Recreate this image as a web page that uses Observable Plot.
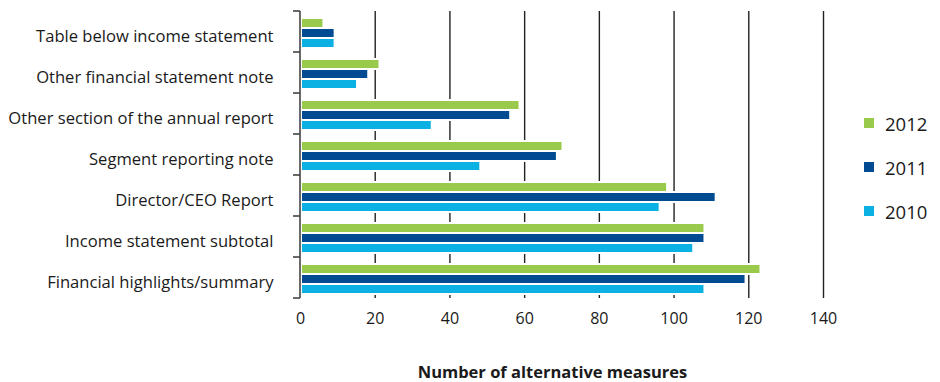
<!DOCTYPE html>
<html>
<head>
<meta charset="utf-8">
<script src="https://cdn.jsdelivr.net/npm/d3@7"></script>
<script src="https://cdn.jsdelivr.net/npm/@observablehq/plot@0.6"></script>
<style>
  body { margin: 0; background: #fff; }
  #chart { position: relative; width: 940px; height: 382px; overflow: hidden; font-family: "Open Sans", sans-serif; color: #1a1a1a; }
  #chart svg { position: absolute; left: 0; top: 0; }
  #legend { position: absolute; left: 864px; top: 101px; }
  #legend .item { display: flex; align-items: center; height: 44px; font-size: 18.5px; }
  #legend .sw { width: 10px; height: 10px; margin-right: 11px; }
  #xtitle { position: absolute; left: 300px; width: 505px; top: 364px; line-height: 16px; text-align: center; font-weight: bold; font-size: 16.5px; }
</style>
</head>
<body>
<div id="chart"></div>
<script>
// Where alternative performance measures are presented, by report year
const categories = [
  "Table below income statement",
  "Other financial statement note",
  "Other section of the annual report",
  "Segment reporting note",
  "Director/CEO Report",
  "Income statement subtotal",
  "Financial highlights/summary"
];
const years = ["2012", "2011", "2010"];
const values2012 = [6, 21, 58.5, 70, 98, 108, 123];
const values2011 = [9, 18, 56, 68.5, 111, 108, 119];
const values2010 = [9, 15, 35, 48, 96, 105, 108];
const yearColors = ["#9aca4b", "#004b91", "#0cb1e4"];
const xTicks = [0, 20, 40, 60, 80, 100, 120, 140];
const gridTicks = [20, 40, 60, 80, 100, 120, 140];
const axisTitle = "Number of alternative measures";

const seriesByYear = { "2012": values2012, "2011": values2011, "2010": values2010 };
const rows = years.flatMap(year =>
  categories.map((category, i) => ({ category, year, value: seriesByYear[year][i] }))
);

const chart = Plot.plot({
  width: 940,
  height: 382,
  marginTop: 11,
  marginBottom: 84,
  marginLeft: 300,
  marginRight: 117,
  style: { fontFamily: "Open Sans, sans-serif", color: "#1a1a1a", background: "transparent" },
  x: { domain: [0, 140] },
  y: { domain: years, axis: null, paddingInner: 0.25, paddingOuter: 0.54 },
  fy: { domain: categories, padding: 0 },
  color: { domain: years, range: yearColors },
  marks: [
    Plot.ruleX(gridTicks, { stroke: "#222", strokeWidth: 1.4 }),
    // white halo behind each bar
    Plot.barX(rows, { fy: "category", y: "year", x: "value", fill: "white", insetTop: -2, insetBottom: -2, insetRight: -2, dy: 1 }),
    Plot.barX(rows, { fy: "category", y: "year", x: "value", fill: "year", insetLeft: 2, dy: 1 }),
    Plot.axisX({ ticks: xTicks, tickSize: 0, tickPadding: 14, fontSize: 16, label: null }),
    Plot.axisFy({ anchor: "left", tickSize: 0, tickPadding: 27, dy: 5, fontSize: 16.6, label: null })
  ]
});

const root = document.getElementById("chart");
root.appendChild(chart);

// Left axis line with ticks at the category band boundaries
const x = chart.scale("x");
let fyScale = null;
try { fyScale = chart.scale("fy"); } catch (e) { fyScale = null; }
const band = d3.scaleBand(categories, fyScale ? fyScale.range : [11, 298]).padding(0);
const x0 = x.apply(0);
const bounds = categories.map(c => band(c)).concat([band(categories[categories.length - 1]) + band.bandwidth()]);
const g = d3.select(chart).append("g").attr("stroke", "#444").attr("stroke-width", 1.6);
g.append("line").attr("x1", x0).attr("x2", x0).attr("y1", bounds[0]).attr("y2", bounds[bounds.length - 1]);
g.selectAll(".b").data(bounds).join("line")
  .attr("x1", x0 - 7).attr("x2", x0).attr("y1", d => d).attr("y2", d => d);

// Legend
const color = chart.scale("color");
const legend = d3.select(root).append("div").attr("id", "legend");
const items = legend.selectAll(".item").data(years).join("div").attr("class", "item");
items.append("div").attr("class", "sw").style("background", d => color.apply(d));
items.append("span").text(d => d);

d3.select(root).append("div").attr("id", "xtitle").text(axisTitle);
</script>
</body>
</html>
